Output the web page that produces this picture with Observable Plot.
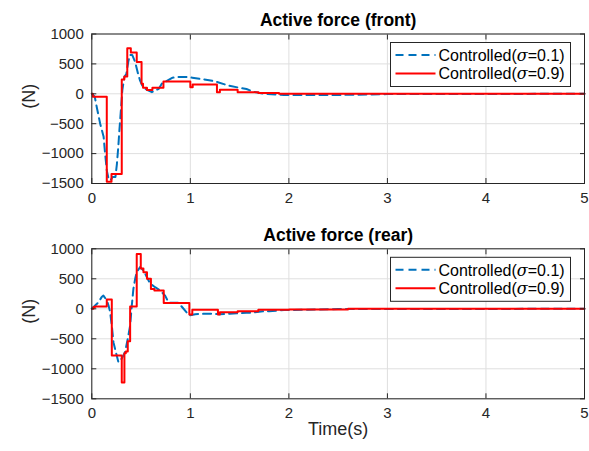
<!DOCTYPE html>
<html><head><meta charset="utf-8">
<script src="https://cdn.jsdelivr.net/npm/d3@7"></script>
<script src="https://cdn.jsdelivr.net/npm/@observablehq/plot@0.6"></script>
<style>
body{margin:0;background:#fff;}
#fig{position:relative;width:589px;height:451px;font-family:"Liberation Sans",Arial,sans-serif;background:#fff;}
#fig svg{position:absolute;left:0;overflow:visible;}
</style></head><body><div id="fig"></div>
<script>
const xTicks = [0, 1, 2, 3, 4, 5];
const yTicks = [-1500, -1000, -500, 0, 500, 1000];
const legendLabels = ["0.1", "0.9"];
const titles = ["Active force (front)", "Active force (rear)"];

// Front, sigma = 0.1 (blue dashed)
const frontT01 = [0,0.03,0.05,0.085,0.12,0.135,0.152,0.17,0.19,0.21,0.24,0.255,0.27,0.28,0.295,0.31,0.33,0.35,0.372,0.388,0.41,0.44,0.47,0.49,0.52,0.56,0.61,0.64,0.68,0.71,0.745,0.82,0.87,0.97,1.02,1.1,1.25,1.38,1.5,1.57,1.65,1.75,1.95,2.5,3,5];
const frontV01 = [0,-50,-220,-500,-720,-1000,-1280,-1420,-1450,-1390,-1390,-1170,-860,-610,-280,60,280,330,550,650,650,530,330,220,110,67,28,55,83,170,200,270,280,280,270,250,210,140,100,80,30,0,-20,-20,-5,0];
// Front, sigma = 0.9 (red step)
const frontT09 = [0,0.01,0.152,0.2,0.304,0.33,0.36,0.396,0.456,0.505,0.52,0.56,0.615,0.727,1.0,1.024,1.27,1.3,1.48,1.69,1.9,5];
const frontV09 = [0,-50,-1470,-1340,240,290,760,690,530,170,100,65,100,205,110,155,27,67,27,15,0,0];

// Rear, sigma = 0.1 (blue dashed)
const rearT01 = [0,0.034,0.068,0.1,0.118,0.152,0.17,0.186,0.203,0.22,0.253,0.27,0.304,0.338,0.365,0.389,0.406,0.422,0.44,0.456,0.49,0.524,0.558,0.592,0.642,0.693,0.744,0.78,0.88,0.96,0.99,1.05,1.15,1.2,1.3,1.4,1.57,1.65,1.75,1.8,1.95,2.05,2.5,5];
const rearV01 = [0,55,110,195,220,140,55,-56,-280,-560,-780,-890,-830,-720,-500,-280,56,330,500,610,695,640,530,420,360,305,220,100,100,-56,-110,-90,-83,-83,-90,-83,-67,-60,-40,-40,-20,-20,-5,0];
// Rear, sigma = 0.9 (red step)
const rearT09 = [0,0.017,0.034,0.152,0.203,0.304,0.331,0.345,0.365,0.389,0.456,0.497,0.524,0.56,0.6,0.635,0.73,0.99,1.02,1.28,1.3,1.48,1.69,2.0,2.6,5];
const rearV09 = [0,28,40,155,-780,-1230,-740,-710,-540,40,915,670,610,500,330,305,95,-95,-17,-95,-56,-40,-17,-10,0,0];

const INK = "#262626";
const FONT = "'Liberation Sans', Arial, sans-serif";

function panel({title, tB, vB, tR, vR, height, marginTop, marginBottom, top, xLabel}) {
  const blue = tB.map((t, i) => ({t, v: vB[i]}));
  const red = tR.map((t, i) => ({t, v: vR[i]}));
  const svg = Plot.plot({
    width: 589, height, marginLeft: 91.3, marginRight: 5, marginTop, marginBottom,
    style: {fontFamily: FONT, fontSize: "15px", color: INK, background: "transparent", overflow: "visible"},
    x: {domain: [0, 5]},
    y: {domain: [-1500, 1000]},
    marks: [
      Plot.gridX(xTicks, {stroke: "#dfdfdf", strokeOpacity: 1}),
      Plot.gridY(yTicks, {stroke: "#dfdfdf", strokeOpacity: 1}),
      Plot.line(blue, {x: "t", y: "v", stroke: "#0072BD", strokeWidth: 2, strokeDasharray: "8,5"}),
      Plot.line(red, {x: "t", y: "v", stroke: "#ff0000", strokeWidth: 2, curve: "step-after"}),
      Plot.frame({stroke: INK, strokeWidth: 1}),
      Plot.axisX(xTicks, {anchor: "bottom", tickSize: 0, tickPadding: 9, label: null, fontSize: 15, tickFormat: "d"}),
      Plot.axisX(xTicks, {anchor: "bottom", tickSize: 5, dy: -5, text: null, label: null}),
      Plot.axisX(xTicks, {anchor: "top", tickSize: 5, dy: 5, text: null, label: null}),
      Plot.axisY(yTicks, {anchor: "left", tickSize: 0, tickPadding: 8, label: null, fontSize: 15, tickFormat: "d"}),
      Plot.axisY(yTicks, {anchor: "left", tickSize: 5, dx: 5, text: null, label: null}),
      Plot.axisY(yTicks, {anchor: "right", tickSize: 5, dx: -5, text: null, label: null}),
      Plot.text([title], {frameAnchor: "top", dy: -8, text: d => d, fontWeight: "bold", fontSize: 17.5, lineAnchor: "bottom", fill: "#000"}),
      Plot.text(["(N)"], {frameAnchor: "left", dx: -63, text: d => d, rotate: -90, fontSize: 18, fill: INK}),
      ...(xLabel ? [Plot.text([xLabel], {frameAnchor: "bottom", dy: 23, text: d => d, fontSize: 18, lineAnchor: "top", fill: INK})] : [])
    ]
  });
  svg.style.top = top + "px";
  // legend
  const g = d3.select(svg).append("g").attr("font-family", FONT).attr("font-size", 16).attr("text-anchor", "start");
  const lx = 390.5, ly = marginTop + 9;
  g.append("rect").attr("x", lx).attr("y", ly).attr("width", 180).attr("height", 44)
    .attr("fill", "#fff").attr("stroke", INK).attr("stroke-width", 1);
  const styles = [{stroke: "#0072BD", dash: "8,5"}, {stroke: "#ff0000", dash: null}];
  legendLabels.forEach((s, i) => {
    const yy = ly + 12.5 + i * 18.5;
    g.append("line").attr("x1", lx + 5).attr("x2", lx + 45).attr("y1", yy).attr("y2", yy)
      .attr("stroke", styles[i].stroke).attr("stroke-width", 2).attr("stroke-dasharray", styles[i].dash);
    const t = g.append("text").attr("x", lx + 48).attr("y", yy).attr("dy", "0.36em").attr("fill", "#000").attr("text-anchor", "start");
    t.append("tspan").text("Controlled(");
    t.append("tspan").attr("font-style", "italic").attr("font-family", "'DejaVu Serif', serif").text("σ");
    t.append("tspan").text("=" + s + ")");
  });
  document.getElementById("fig").appendChild(svg);
}

panel({title: titles[0], tB: frontT01, vB: frontV01, tR: frontT09, vR: frontV09,
  height: 215, marginTop: 33.5, marginBottom: 32, top: 0});
panel({title: titles[1], tB: rearT01, vB: rearV01, tR: rearT09, vR: rearV09,
  height: 236, marginTop: 33.3, marginBottom: 52.7, top: 215, xLabel: "Time(s)"});
</script></body></html>
